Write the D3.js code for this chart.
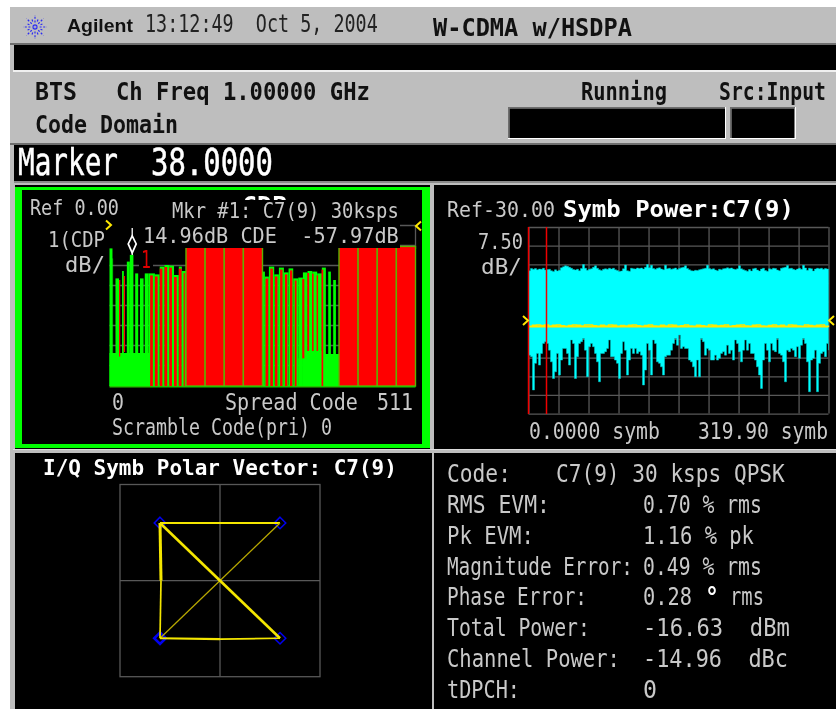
<!DOCTYPE html>
<html>
<head>
<meta charset="utf-8">
<script src="https://cdn.jsdelivr.net/npm/d3@7"></script>
<style>
html,body{margin:0;padding:0;background:#fff;}
svg{display:block;filter:blur(0.35px);}
text{white-space:pre;font-family:"DejaVu Sans Mono",monospace;}
</style>
</head>
<body>
<div id="chart"></div>
<script>
// code domain trace, all in codes (0..511) and dB
let blockStart=[128,160,192,224,384,416,448,480];
let blockEnd=[160,192,224,256,416,448,480,512];
let blockTop=[-10.7,-10.7,-10.7,-10.7,-10.7,-10.7,-10.7,-10.7];

let greenStart=[0,5,10,21,29,34,43,51,59,65,76,84,92,100,108,116,121,256,260,266.7,275.6,283.4,291.8,299.6,307.4,315.8,323.6,331.4,339.2,347.5,355.3,366,374.3];
let greenEnd=[5,6,16,24,34,40,48,57,65,76,84,92,100,108,116,121,128,260,266.7,275.6,283.4,291.8,299.6,307.4,315.8,323.6,331.4,339.2,347.5,355.3,362,370.4,378.8];
let greenTop=[-11.7,-16.7,-26.7,-23,-18.3,-14.96,-24.2,-26.7,-24.2,-24.2,-24.7,-20.8,-20,-20.3,-25,-20.8,-23,-23.3,-25.8,-20.8,-24.7,-21.3,-23.7,-21.7,-26.7,-26.3,-23.7,-23,-23.3,-24.2,-21.3,-23.3,-27.5];

let baseStart=[0,316,323,356];
let baseEnd=[68,323,356,384];
let baseTop=[-64,-66.7,-63,-64.5];

let redStart=[16,24,68,76,84,92,100,108,116,124,261,269,277,285.5,293.5,302,310,322.5,331,339,346.5,354.8];
let redEnd=[18,26,72.5,80.5,88.5,96.5,104.5,112.5,120.5,126,265.6,273.4,281,289.5,297.5,306,313,326,334,341.5,349,357.6];
let redTop=[-27.5,-25.5,-25.2,-25.7,-21.8,-21,-21.3,-26,-21.8,-24,-26.8,-21.8,-25.7,-22.3,-24.7,-22.7,-27.7,-27,-24,-24.3,-25.2,-22.3];
let redFloor=[-65.8,-63.5,-80.5,-80.5,-80.5,-80.5,-80.5,-80.5,-80.5,-80.5,-80.5,-80.5,-80.5,-80.5,-80.5,-80.5,-80.5,-66.7,-63,-63,-63,-80.5];

let cdpTicks=[0,-10,-20,-30,-40,-50,-60,-70,-80];
let markerCode=38;
let markerDb=-14.96;

// symbol power trace, upper and lower edge read across the 320 symbols
let powerUpper=[-47.6,-46.7,-47,-46.7,-47.2,-46.9,-47,-46.6,-47.3,-47.1,-47,-47.6,-47.9,-47.2,-47.7,-47.4,-46.4,-46,-45.6,-45.8,-46.2,-46.6,-47.1,-47.3,-47,-47.6,-46.7,-45.1,-46.6,-47.4,-47,-46.8,-46.2,-45.6,-46.6,-47.2,-47.5,-47,-46.8,-47,-46.6,-46.9,-46.6,-47.2,-47.5,-47.9,-47.7,-46.8,-45.3,-47.6,-47.8,-46.6,-46.8,-46.9,-46.5,-46.7,-46.5,-46.9,-46.2,-45.1,-46.4,-45.4,-46.7,-47,-46.6,-46.4,-46.9,-47.2,-45.4,-46.8,-46.6,-47,-46.8,-46.5,-47.1,-46.7,-46.4,-46.2,-45.6,-46.7,-47.2,-47.6,-47.7,-47.4,-47.5,-47.2,-47,-46.8,-46.6,-45.4,-46.7,-47,-46.8,-47.3,-47.6,-47,-47.2,-46.8,-46.7,-46.4,-46.7,-46.5,-46.9,-47.1,-46.8,-45.6,-46.8,-47.2,-47.5,-47.8,-47.1,-47.7,-46.8,-46.6,-47.3,-47.7,-46.9,-46.6,-47.5,-47.8,-46.8,-47,-46.6,-46.7,-47.3,-47.6,-46.6,-46.4,-46.2,-45.5,-46.7,-46.6,-47,-47.3,-46.9,-46.6,-47,-45.4,-46.5,-47.4,-46.6,-46.8,-47.7,-46.9,-46.6,-46.8,-46.6,-47,-46.7,-46.9,-47.5];
let powerLower=[-81.5,-82.1,-95.5,-84.8,-80.8,-85.5,-80.8,-76.8,-76.1,-76.8,-79.5,-84.2,-90.9,-88.2,-80.8,-89.5,-83.5,-78.8,-78.8,-80.8,-85.5,-75.4,-76.8,-90.9,-82.1,-76.8,-76.1,-74.8,-79.5,-90.2,-78.1,-76.8,-78.1,-80.8,-84.2,-92.2,-80.8,-80.8,-80.1,-78.8,-75.4,-82.1,-82.1,-83.5,-84.8,-90.9,-80.8,-76.1,-79.5,-89.5,-83.5,-78.8,-80.8,-78.8,-80.8,-80.1,-81.5,-93.5,-87.5,-76.8,-79.5,-89.5,-75.4,-76.8,-84.2,-84.8,-86.2,-89.5,-82.1,-81.5,-81.5,-79.5,-76.8,-74.8,-77.5,-73.4,-78.8,-78.1,-78.8,-78.8,-83.5,-84.2,-86.2,-90.2,-83.5,-90.2,-74.8,-76.1,-81.5,-78.8,-79.5,-83.5,-83.5,-81.5,-83.5,-82.8,-80.8,-80.1,-81.5,-77.5,-80.8,-79.5,-83.5,-75.4,-76.8,-80.1,-84.2,-79.5,-75.4,-79.5,-76.8,-80.8,-80.8,-83.5,-86.2,-89.5,-94.9,-83.5,-76.8,-79.5,-84.2,-76.8,-79.5,-80.1,-74.8,-80.8,-81.5,-84.2,-92.2,-79.5,-80.1,-78.8,-79.5,-82.1,-78.1,-82.8,-77.5,-74.8,-76.8,-84.2,-96.2,-83.5,-82.8,-79.5,-96.2,-84.8,-80.8,-80.1,-82.1,-76.8,-79.5];
let powerMean=[-69.9,-69.5,-69.4,-69.6,-69.4,-69.8,-69.5,-69.4,-69.7,-69.9,-69.6,-69.4,-69.5,-69.8,-69.4,-69.4,-69.7,-69.9,-69.5,-69.8,-69.4,-69.5,-69.9,-69.6,-69.8,-69.5,-69.4,-69.7,-69.9,-69.6,-69.4,-69.8,-69.9,-69.5,-69.8,-69.4,-69.5,-69.9,-69.7,-69.4,-69.8,-69.9,-69.5,-69.7,-69.9,-69.4,-69.5,-69.8,-69.6,-69.4,-69.9,-69.7,-69.5,-69.4,-69.8,-69.9,-69.5,-69.4,-69.8,-69.9,-69.6,-69.4,-69.8,-69.5,-69.9,-69.4,-69.5,-69.8,-69.9,-69.4,-69.6,-69.8,-69.5,-69.4,-69.9,-69.6];
let powerRefLine=-70.1;
let powerTicks=[-30,-37.5,-45,-52.5,-60,-67.5,-75,-82.5,-90,-97.5,-105];
let symbTicks=[0,32,64,96,128,160,192,224,256,288,319.9];
let symbMarker=19.2;

// I/Q polar vector
let vecI=[-0.6,0.6,-0.6,0,0.6,-0.6,-0.59,-0.6];
let vecQ=[0.6,0.6,-0.6,-0.61,-0.6,0.6,0,-0.6];
let vecWeight=[2,1.3,2.2,1.7,2.6,3,1.7];
let constI=[-0.6,0.6,-0.6,0.6];
let constQ=[0.6,0.6,-0.6,-0.6];

let statLabels=["Code:","RMS EVM:","Pk EVM:","Magnitude Error:","Phase Error:","Total Power:","Channel Power:","tDPCH:"];
let statValues=["C7(9) 30 ksps QPSK","0.70 % rms","1.16 % pk","0.49 % rms","0.28","-16.63  dBm","-14.96  dBc","0"];
let statLabelEnd=[511,550,534,633,587,590,620,520];
let statValueStart=[556,643,643,643,643,643,643,643];
let statValueEnd=[785,762,754,762,692,790,788,657];

let width=836,height=709;
let svg=d3.select("#chart").append("svg").attr("width",width).attr("height",height);
let gray="#bebebe",dark="#6e6e6e",soft="#c9c9c9",gridCol="#585858";

function box(x,y,w,h,fill){
    return svg.append("rect").attr("x",x).attr("y",y).attr("width",w).attr("height",h).attr("fill",fill);
}
// squeezes the text to the width it has on the picture
function label(str,x,base,w,size,fill,bold,family){
    let t=svg.append("text").text(str)
    .attr("font-size",size).attr("fill",fill)
    .attr("font-weight",bold?"bold":"normal");
    if(family){ t.style("font-family",family); }
    let natural=t.node().getComputedTextLength();
    t.attr("transform","translate("+x+","+base+") scale("+(w/natural)+",1)");
    return t;
}

// instrument frame
box(10,7,826,702,gray);
box(10,43,826,2,dark);
box(14,45,822,25,"#000");
box(13,70,823,2,"#f0f0f0");
box(10,143,826,2,dark);
box(14,145,822,36,"#000");
box(14,181,822,2,"#8a8a8a");
box(15,185,821,524,"#000");

// logo
let rays=[0,45,90,135,180,225,270,315,22,68,112,158,202,248,292,338];
let logo=svg.append("g").attr("transform","translate(35,27)");
logo.selectAll("line").data(rays).enter().append("line")
.attr("x1",function(d,i){ return (i<8?1:6)*Math.cos(d*Math.PI/180); })
.attr("y1",function(d,i){ return (i<8?1:6)*Math.sin(d*Math.PI/180); })
.attr("x2",function(d,i){ return (i<8?12:9)*Math.cos(d*Math.PI/180); })
.attr("y2",function(d,i){ return (i<8?12:9)*Math.sin(d*Math.PI/180); })
.attr("stroke","#2a2af5").attr("stroke-width",1.2).attr("stroke-dasharray","2 1.6");

label("Agilent",67,32,66,19,"#111",true,"'Liberation Sans',sans-serif");
label("13:12:49  Oct 5, 2004",145,32,233,24,"#222");
label("W-CDMA w/HSDPA",433,36,199,24,"#111",true);
label("BTS",35,100,42,24,"#111",true);
label("Ch Freq 1.00000 GHz",116,100,254,24,"#111",true);
label("Code Domain",35,133,143,24,"#111",true);
label("Running",581,100,86,24,"#111",true);
label("Src:Input",719,100,107,24,"#111",true);

// status boxes
box(508,107,218,32,"#fff");
box(730,107,66,32,"#fff");
box(508,107,217,1.5,dark);box(730,107,65,1.5,dark);
box(508,107,1.5,31,dark);box(730,107,1.5,31,dark);
box(509.5,108.5,215.5,29.5,"#000");
box(731.5,108.5,63,29.5,"#000");

label("Marker",18,175,100,38,"#fff").attr("stroke","#fff").attr("stroke-width",0.5);
label("38.0000",151,175,122,38,"#fff").attr("stroke","#fff").attr("stroke-width",0.5);

// panel separators
box(430,185,4,266,gray);
box(13,449,823,4,gray);
box(432,449,2,260,gray);
box(13,449,823,1,"#dcdcdc");
box(13,453,2,256,gray);

// code domain panel
let xCode=d3.scaleLinear().domain([0,512]).range([109.5,415.5]);
let yCdp=d3.scaleLinear().domain([0,-80]).range([225,385]);

svg.append("g").attr("transform","translate(109.5,0)")
.call(d3.axisLeft(yCdp).tickValues(cdpTicks).tickSize(-306).tickFormat(""))
.call(function(g){ g.select(".domain").remove(); })
.selectAll("line").attr("stroke",gridCol).attr("stroke-width",1.3);
svg.append("line").attr("x1",xCode(512)).attr("x2",xCode(512))
.attr("y1",yCdp(0)).attr("y2",yCdp(-12)).attr("stroke",gridCol).attr("stroke-width",1.3);

svg.append("g").selectAll("rect").data(baseStart).enter().append("rect")
.attr("x",function(d){ return xCode(d); })
.attr("width",function(d,i){ return xCode(baseEnd[i])-xCode(d); })
.attr("y",function(d,i){ return yCdp(baseTop[i]); })
.attr("height",function(d,i){ return yCdp(-80.5)-yCdp(baseTop[i]); })
.attr("fill","#00ff00");

svg.append("g").selectAll("rect").data(greenStart).enter().append("rect")
.attr("x",function(d){ return xCode(d); })
.attr("width",function(d,i){ return xCode(greenEnd[i])-xCode(d); })
.attr("y",function(d,i){ return yCdp(greenTop[i]); })
.attr("height",function(d,i){ return yCdp(-80.5)-yCdp(greenTop[i]); })
.attr("fill","#00ff00");

svg.append("g").selectAll("rect").data(redStart).enter().append("rect")
.attr("x",function(d){ return xCode(d); })
.attr("width",function(d,i){ return xCode(redEnd[i])-xCode(d); })
.attr("y",function(d,i){ return yCdp(redTop[i]); })
.attr("height",function(d,i){ return yCdp(redFloor[i])-yCdp(redTop[i]); })
.attr("fill","#ff0000");

svg.append("g").selectAll("rect").data(blockStart).enter().append("rect")
.attr("x",function(d){ return xCode(d); })
.attr("width",function(d,i){ return xCode(blockEnd[i])-xCode(d); })
.attr("y",function(d,i){ return yCdp(blockTop[i]); })
.attr("height",function(d,i){ return yCdp(-80.5)-yCdp(blockTop[i]); })
.attr("fill","#ff0000").attr("stroke","#5fb000").attr("stroke-width",1.4);

box(xCode(0),yCdp(-80.5),306,1.5,"#22c000");

// text backing over the top of the plot
box(22,190,378,58,"#000");
box(139,250,14,18,"#000");

// the instrument leaves this one half painted over by the marker line
label("CDP",242,214,45,24,"#fff",true);
box(236,200,60,20,"#000");

label("Ref 0.00",30,215,89,22,soft);
label("Mkr #1: C7(9) 30ksps",172,218,227,22,soft);
label("1(CDP",48,247,57,22,soft);
label("14.96dB CDE  -57.97dB",143,243,256,22,soft);
label("dB/",65,272,40,22,soft);
label("1",141,268,10,24,"#e00000");
label("0",112,410,12,23,soft);
label("Spread Code",225,410,133,23,soft);
label("511",377,410,36,23,soft);
label("Scramble Code(pri) 0",112,435,220,23,soft);

// marker diamond
let marker=svg.append("g").attr("transform","translate("+xCode(markerCode)+","+yCdp(markerDb)+")");
marker.append("path").attr("d","M0,-2L4,-11L0,-19L-4,-11Z").attr("fill","#000").attr("stroke","#fff").attr("stroke-width",1.7);
marker.append("line").attr("x1",0).attr("x2",0).attr("y1",-19).attr("y2",-27).attr("stroke","#fff").attr("stroke-width",1.3);
marker.append("line").attr("x1",0).attr("x2",0).attr("y1",0).attr("y2",-3).attr("stroke","#fff").attr("stroke-width",1.3);

function chevron(x,y,dir){
    svg.append("path").attr("d","M"+x+","+(y-4.5)+"L"+(x+dir*5)+","+y+"L"+x+","+(y+4.5))
    .attr("fill","none").attr("stroke","#ffe800").attr("stroke-width",2);
}
chevron(106,225,1);
chevron(421,226,-1);

// green frame of the active window
box(15,187,7,261,"#00ff00");
box(15,187,415,3,"#00ff00");
box(422,187,8,261,"#00ff00");
box(15,444,415,4,"#00ff00");

// symbol power panel
let xSymb=d3.scaleLinear().domain([0,319.9]).range([528.5,828.5]);
let yPower=d3.scaleLinear().domain([-30,-105]).range([227,413.6]);

svg.append("g").attr("transform","translate(528.5,0)")
.call(d3.axisLeft(yPower).tickValues(powerTicks).tickSize(-300).tickFormat(""))
.call(function(g){ g.select(".domain").remove(); })
.selectAll("line").attr("stroke",gridCol).attr("stroke-width",1.3);
svg.append("g").attr("transform","translate(0,413.6)")
.call(d3.axisBottom(xSymb).tickValues(symbTicks).tickSize(-186.6).tickFormat(""))
.call(function(g){ g.select(".domain").remove(); })
.selectAll("line").attr("stroke",gridCol).attr("stroke-width",1.3);

let xIndex=d3.scaleLinear().domain([0,powerUpper.length-1]).range([0,319.9]);
let powerArea=d3.area().curve(d3.curveStepAfter)
.x(function(d,i){ return xSymb(xIndex(i)); })
.y0(function(d){ return yPower(d); })
.y1(function(d,i){ return yPower(powerUpper[i]); });
svg.append("path").datum(powerLower).attr("d",powerArea).attr("fill","#00ffff").attr("stroke","#00c8c8").attr("stroke-width",0.5);

let xMean=d3.scaleLinear().domain([0,powerMean.length-1]).range([0,319.9]);
let meanLine=d3.line().curve(d3.curveStepAfter)
.x(function(d,i){ return xSymb(xMean(i)); })
.y(function(d){ return yPower(d); });
svg.append("path").datum(powerMean).attr("d",meanLine).attr("fill","none").attr("stroke","#ffe800").attr("stroke-width",1.4);
svg.append("line").attr("x1",xSymb(0)).attr("x2",xSymb(319.9)).attr("y1",yPower(powerRefLine)).attr("y2",yPower(powerRefLine))
.attr("stroke","#ffe800").attr("stroke-width",1.4);

svg.append("line").attr("x1",xSymb(0)).attr("x2",xSymb(0)).attr("y1",227).attr("y2",414).attr("stroke","#f00000").attr("stroke-width",1.5);
svg.append("line").attr("x1",xSymb(symbMarker)).attr("x2",xSymb(symbMarker)).attr("y1",227).attr("y2",414).attr("stroke","#f00000").attr("stroke-width",1.5);

chevron(523,320.5,1);
chevron(834,320.5,-1);

label("Ref-30.00",447,217,108,22,soft);
label("Symb Power:C7(9)",563,217,231,23,"#fff",true);
label("7.50",478,249,45,22,soft);
label("dB/",481,274,41,22,soft);
label("0.0000 symb",529,439,131,23,soft);
label("319.90 symb",698,439,130,23,soft);

// polar panel
label("I/Q Symb Polar Vector: C7(9)",43,475,354,22,"#fff",true);
let xI=d3.scaleLinear().domain([-1,1]).range([120,320]);
let yQ=d3.scaleLinear().domain([-1,1]).range([676.7,484.5]);
svg.append("rect").attr("x",xI(-1)).attr("y",yQ(1)).attr("width",xI(1)-xI(-1)).attr("height",yQ(-1)-yQ(1))
.attr("fill","none").attr("stroke",gridCol).attr("stroke-width",1.3);
svg.append("line").attr("x1",xI(0)).attr("x2",xI(0)).attr("y1",yQ(1)).attr("y2",yQ(-1)).attr("stroke",gridCol).attr("stroke-width",1.3);
svg.append("line").attr("x1",xI(-1)).attr("x2",xI(1)).attr("y1",yQ(0)).attr("y2",yQ(0)).attr("stroke",gridCol).attr("stroke-width",1.3);

svg.append("g").selectAll("path").data(constI).enter().append("path")
.attr("d",d3.symbol().type(d3.symbolDiamond2).size(85))
.attr("transform",function(d,i){ return "translate("+xI(d)+","+yQ(constQ[i])+")"; })
.attr("fill","none").attr("stroke","#0000f0")
.attr("stroke-width",function(d,i){ return i==2?2.6:1.5; });

svg.append("g").selectAll("line").data(vecWeight).enter().append("line")
.attr("x1",function(d,i){ return xI(vecI[i]); })
.attr("y1",function(d,i){ return yQ(vecQ[i]); })
.attr("x2",function(d,i){ return xI(vecI[i+1]); })
.attr("y2",function(d,i){ return yQ(vecQ[i+1]); })
.attr("stroke",function(d){ return d<1.4?"#b8a800":"#f4e600"; })
.attr("stroke-width",function(d){ return d; });

// results table
let yRow=d3.scalePoint().domain(statLabels).range([481.7,698.3]);
statLabels.forEach(function(s,i){
    label(s,447,yRow(s),statLabelEnd[i]-447,25,soft);
    label(statValues[i],statValueStart[i],yRow(s),statValueEnd[i]-statValueStart[i],25,soft);
});
label("\u00b0",705,yRow("Phase Error:")+1,14,26,"#fff",true);
label("rms",730,yRow("Phase Error:"),34,25,soft);
</script>
</body>
</html>
